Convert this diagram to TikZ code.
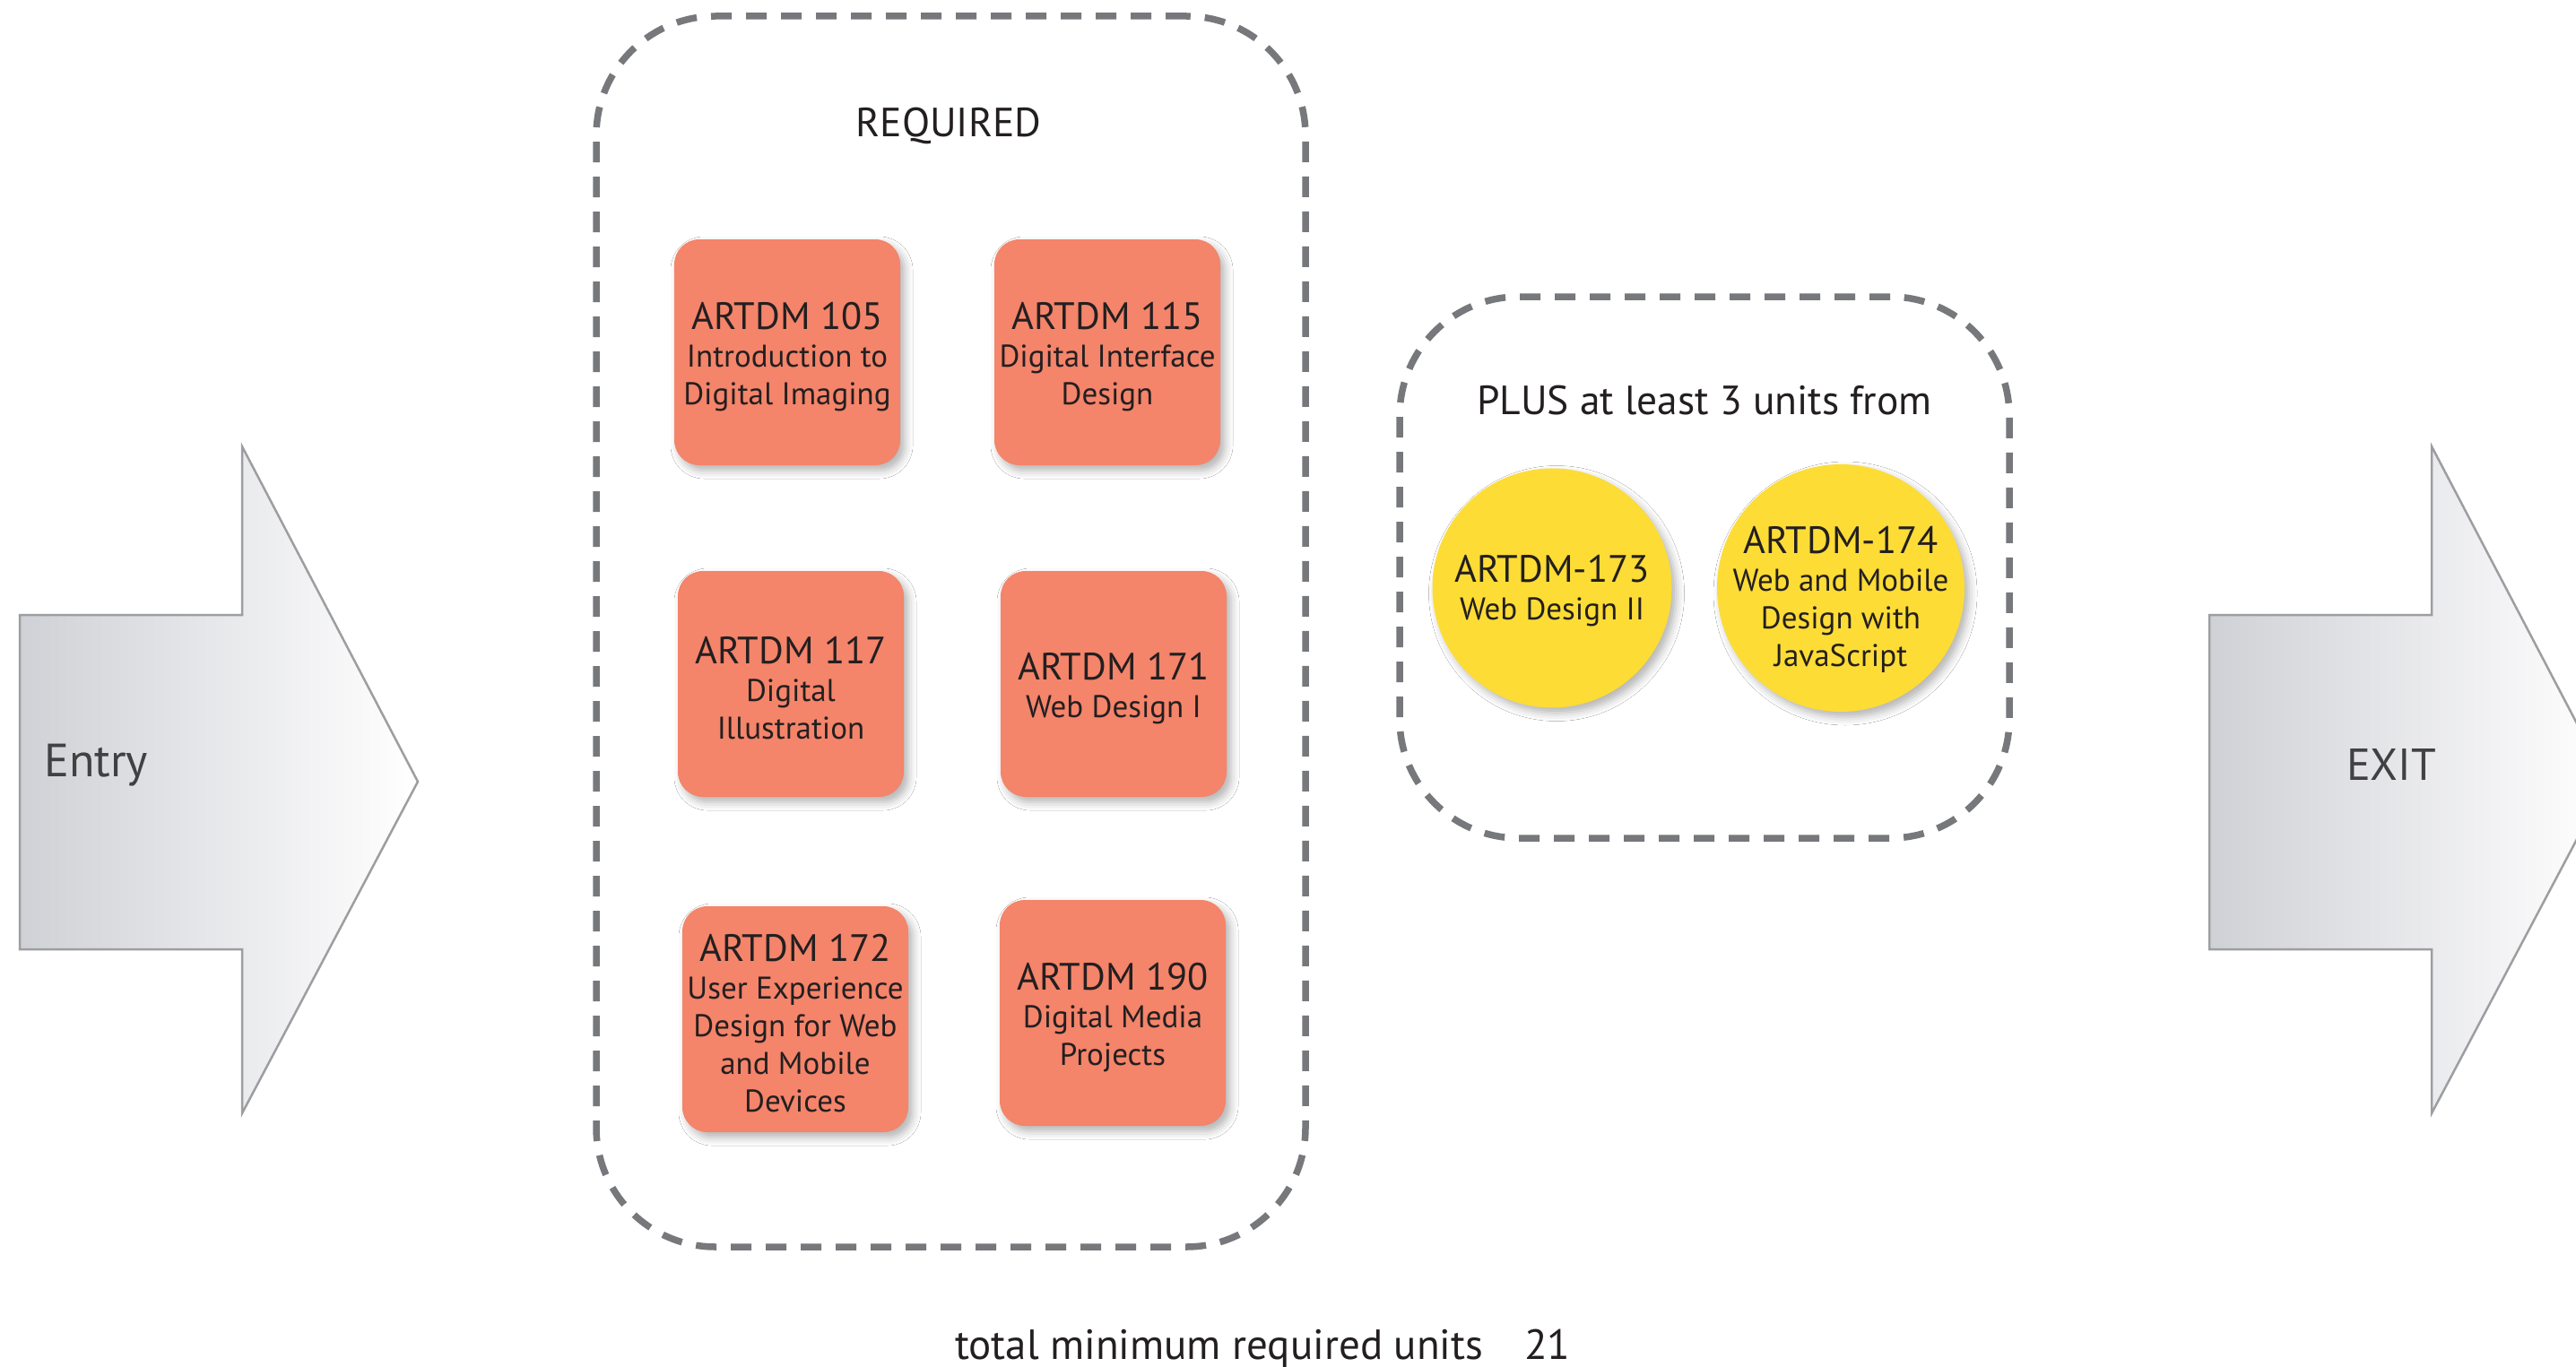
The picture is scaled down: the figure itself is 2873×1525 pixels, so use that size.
\documentclass[tikz,border=0pt]{standalone}
\usepackage{fontspec}
\setmainfont{PT Sans}
\usetikzlibrary{shadows.blur}
\definecolor{txt}{HTML}{231F20}
\definecolor{coursefill}{HTML}{F4846A}
\definecolor{electfill}{HTML}{FDDC36}
\definecolor{dashgray}{HTML}{77787B}
\definecolor{arrowgray}{HTML}{D0D1D6}
\definecolor{arrowline}{HTML}{9D9EA1}
\definecolor{greytext}{HTML}{414042}
\newcommand\ctitle[1]{{\fontsize{42.5}{42}\selectfont\rule{0pt}{40pt}#1}}
\begin{document}
\begin{tikzpicture}[x=1pt,y=-1pt,
  course/.style={fill=coursefill, rounded corners=28pt, minimum width=252pt,
    minimum height=252pt, align=center, text=txt, inner sep=0pt,
    font=\fontsize{35}{42}\selectfont,
    blur shadow={shadow xshift=5pt, shadow yshift=-6pt, shadow blur radius=9pt, shadow opacity=30}},
  elective/.style={circle, fill=electfill, inner sep=0pt,
    blur shadow={shadow xshift=5pt, shadow yshift=-6pt, shadow blur radius=9pt, shadow opacity=30}},
  eltext/.style={align=center, text=txt, inner sep=0pt, font=\fontsize{35}{42}\selectfont},
  group/.style={draw=dashgray, line width=7.5pt, dash pattern=on 23pt off 16pt,
    rounded corners=133pt, minimum width=#1},
  bigarrow/.style={draw=arrowline, line width=2.5pt, left color=arrowgray, right color=white},
  label/.style={text=txt, inner sep=0pt, anchor=base}
]
\useasboundingbox (0,0) rectangle (2873,1525);
\clip (0,0) rectangle (2873,1525);
\fill[white] (0,0) rectangle (2873,1525);

% arrows
\path[bigarrow] (22,686) -- (270,686) -- (270,498) -- (466,872) -- (270,1242) -- (270,1059) -- (22,1059) -- cycle;
\path[bigarrow] (2464,686) -- (2712,686) -- (2712,498) -- (2908,872) -- (2712,1242) -- (2712,1059) -- (2464,1059) -- cycle;
\node[text=greytext, inner sep=0pt, anchor=base west, font=\fontsize{52}{52}\selectfont] (entry) at (49,866) {Entry};
\node[text=greytext, inner sep=0pt, anchor=base, font=\fontsize{50}{50}\selectfont] (exit) at (2667,870) {EXIT};

% groups
\node[group=791pt, minimum height=1373pt] (req) at (1060.5,704.5) {};
\node[group=680pt, minimum height=604pt] (plus) at (1901,633) {};
\node[label, font=\fontsize{45.5}{46}\selectfont] (reqtitle) at (1058,153) {REQUIRED};
\node[label, font=\fontsize{45.5}{46}\selectfont] (plustitle) at (1901,462) {PLUS at least 3 units from};

% required courses
\node[course] (c105) at (878,393) {\ctitle{ARTDM 105}\\Introduction to\\Digital Imaging};
\node[course] (c115) at (1235,393) {\ctitle{ARTDM 115}\\Digital Interface\\Design};
\node[course] (c117) at (882,763) {\ctitle{ARTDM 117}\\Digital\\Illustration};
\node[course] (c171) at (1242,763) {\ctitle{ARTDM 171}\\Web Design I};
\node[course] (c172) at (887,1137) {\ctitle{ARTDM 172}\\User Experience\\Design for Web\\and Mobile\\Devices};
\node[course] (c190) at (1241,1130) {\ctitle{ARTDM 190}\\Digital Media\\Projects};

% electives
\node[elective, minimum size=267pt] (e173) at (1731,656) {};
\node[eltext] (e173t) at (1731,654) {\ctitle{ARTDM-173}\\Web Design II};
\node[elective, minimum size=276pt] (e174) at (2053,656) {};
\node[eltext] (e174t) at (2053,664) {\ctitle{ARTDM-174}\\Web and Mobile\\Design with\\JavaScript};

% total
\node[label, anchor=base west, font=\fontsize{47}{47}\selectfont] (total) at (1065,1516) {total minimum required units\hspace{46pt}21};
\end{tikzpicture}
\end{document}
